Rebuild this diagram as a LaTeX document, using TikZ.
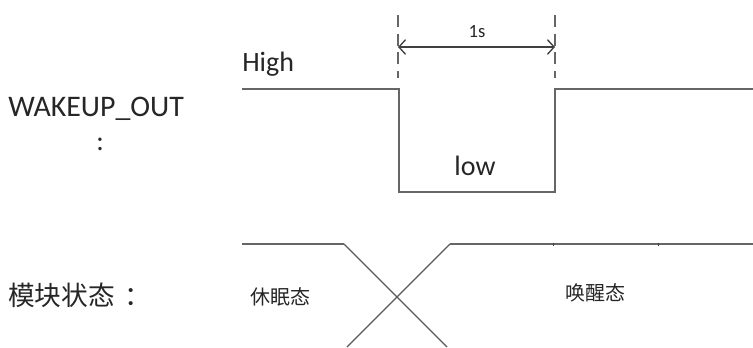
\documentclass[tikz,border=0pt]{standalone}
\usepackage{fontspec}
\setmainfont{Carlito}
\newfontfamily\cjk{Noto Sans CJK SC}
\usetikzlibrary{arrows.meta,positioning,calc}

\begin{document}
\begin{tikzpicture}[x=0.75pt, y=-0.75pt,
    wave/.style={draw=black!60, line width=1.5pt},
    cross/.style={draw=black!65, line width=1pt},
    guide/.style={draw=black!60, line width=1.3pt, dash pattern=on 9pt off 5pt},
    span/.style={{Straight Barb[length=5pt,width=11pt]}-{Straight Barb[length=5pt,width=11pt]}, draw=black!75, line width=1pt},
    notch/.style={draw=black!75, line width=0.6pt},
    lbl/.style={text=black!85, inner sep=0pt, font=\fontsize{21}{25}\selectfont},
    small/.style={text=black!85, inner sep=0pt, font=\fontsize{14}{17}\selectfont},
    state/.style={text=black!85, inner sep=0pt, font=\cjk\fontsize{15}{18}\selectfont},
    title/.style={text=black!85, inner sep=0pt, font=\cjk\fontsize{20}{24}\selectfont}
]
\useasboundingbox (0,0) rectangle (753,347);

% Labels
\node[lbl, anchor=base west, font=\fontsize{22.4}{27}\selectfont] (sig) at (8,116) {WAKEUP\_OUT};
\node[lbl, anchor=base] (sigc) at (100,150) {:};
\node[title, anchor=west] (mod) at (8,295) {模块状态\hspace{7pt}：};

% WAKEUP_OUT waveform
\coordinate (h0) at (242,89);
\coordinate (f1) at (399,89);
\coordinate (f2) at (399,192);
\coordinate (r1) at (555,192);
\coordinate (r2) at (555,89);
\coordinate (h1) at (753,89);
\draw[wave] (h0) -- (f1) -- (f2) -- (r1) -- (r2) -- (h1);
\node[lbl, anchor=base west] (high) at (242,71) {High};
\node[lbl, anchor=base] (low) at (475,175) {low};

% Pulse width
\coordinate (g1t) at (398,15);
\coordinate (g1b) at (398,78);
\coordinate (g2t) at (555,15);
\coordinate (g2b) at (555,78);
\draw[guide] (g1t) -- (g1b);
\draw[guide] (g2t) -- (g2b);
\coordinate (a1) at (398,47);
\coordinate (a2) at (555,47);
\draw[span] (a1) -- (a2);
\node[small] (pw) at (477,32) {1s};

% Module state
\coordinate (s0) at (242,244);
\coordinate (s1) at (344,244);
\coordinate (s2) at (447,347);
\coordinate (w0) at (347,347);
\coordinate (w1) at (450,244);
\coordinate (w2) at (753,244);
\draw[wave] (s0) -- (s1);
\draw[cross] (s1) -- (s2);
\draw[cross] (w0) -- (w1);
\draw[wave] (w1) -- (w2);
\foreach \x in {553,658} \draw[notch] (\x,242.5) -- (\x,245.5);
\node[state] (sleep) at (280,297) {休眠态};
\node[state] (awake) at (595,293) {唤醒态};

\end{tikzpicture}
\end{document}
